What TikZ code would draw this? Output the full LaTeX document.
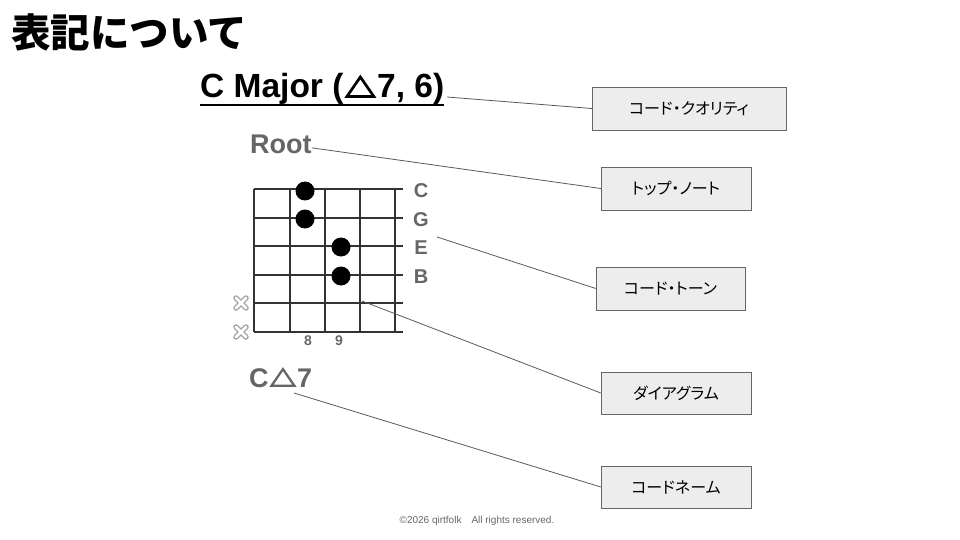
\documentclass[tikz,border=0pt]{standalone}
\usepackage{fontspec}
\usepackage{tikz}
\setmainfont{Liberation Sans}
\newfontfamily\jp{Noto Sans CJK JP}
\newfontfamily\jpbox[RawFeature=+palt]{Noto Sans CJK JP}
% bold outlined triangle for major seventh
\newcommand\majtri[1]{\hspace{0.06em}\tikz[baseline=0pt, x=#1pt, y=#1pt]
  \draw[line width=2.7pt*#1, line join=miter] (1.5,1.4) -- (28.5,1.4) -- (15,21) -- cycle;\hspace{0.06em}}

\begin{document}
\begin{tikzpicture}[x=1pt,y=-1pt]
  \useasboundingbox (0,0) rectangle (960,540);

  \node[anchor=west, inner sep=0, font=\jp\bfseries\fontsize{39.5}{42}\selectfont] (title) at (11,32) {表記について};

  % chord header
  \node[anchor=base west, inner sep=0, font=\bfseries\fontsize{33.5}{36}\selectfont] (quality) at (200,98) {C Major (\majtri{1}7, 6)};
  \draw[line width=2.5pt] ([yshift=-7pt]quality.base west) -- ([yshift=-7pt]quality.base east);

  \begin{scope}[every node/.style={anchor=base west, inner sep=0, text=black!60, font=\bfseries\fontsize{27}{30}\selectfont}]
    \node (root) at (250,154) {Root};
    \node (name) at (249,387) {C\majtri{0.85}7};
  \end{scope}

  % fretboard
  \begin{scope}[line width=1.4pt, black!80]
    \draw (254,189) -- (403,189);
    \draw (254,218) -- (403,218);
    \draw (254,246) -- (403,246);
    \draw (254,275) -- (403,275);
    \draw (254,303) -- (403,303);
    \draw (254,332) -- (403,332);
    \draw (254,189) -- (254,332);
    \draw (290,189) -- (290,332);
    \draw (325,189) -- (325,332);
    \draw (360,189) -- (360,332);
    \draw (395,189) -- (395,332);
  \end{scope}

  \begin{scope}[every node/.style={circle, fill=black, minimum size=19pt, inner sep=0}]
    \node (d1) at (305,191) {};
    \node (d2) at (305,219) {};
    \node (d3) at (341,247) {};
    \node (d4) at (341,276) {};
  \end{scope}

  \begin{scope}[every node/.style={text=black!60, font=\bfseries\fontsize{20}{22}\selectfont, inner sep=0}]
    \node (sC) at (421,191) {C};
    \node (sG) at (421,220) {G};
    \node (sE) at (421,248) {E};
    \node (sB) at (421,277) {B};
    \node[font=\bfseries\fontsize{14}{16}\selectfont] (f8) at (308,341) {8};
    \node[font=\bfseries\fontsize{14}{16}\selectfont] (f9) at (339,341) {9};
  \end{scope}

  % muted strings
  \draw[black!35, line width=5.5pt, line cap=round] (236,298) -- (246,308) (236,308) -- (246,298)
    (236,327) -- (246,337) (236,337) -- (246,327);
  \draw[white, line width=2.8pt, line cap=round] (236,298) -- (246,308) (236,308) -- (246,298)
    (236,327) -- (246,337) (236,337) -- (246,327);

  % labels
  \begin{scope}[every node/.style={draw=black!60, fill=black!7, minimum width=150pt, minimum height=43pt, font=\jpbox\fontsize{16}{18}\selectfont}]
    \node[minimum width=194pt] (b1) at (689,108.5) {コード・クオリティ};
    \node (b2) at (676,188.5) {トップ・ノート};
    \node[minimum width=149pt] (b3) at (670.5,288.5) {コード・トーン};
    \node[minimum height=42pt] (b4) at (676,393) {ダイアグラム};
    \node[minimum height=42pt] (b5) at (676,487) {コードネーム};
  \end{scope}

  \coordinate (q1) at (447,97);
  \coordinate (t1) at (437,237);
  \coordinate (t2) at (362,301);
  \coordinate (t3) at (294,393);

  \begin{scope}[every edge/.style={draw, black!65, line width=0.8pt}]
    \path (q1) edge (b1.west);
    \path ([yshift=-3pt]root.east) edge (b2.west);
    \path (t1) edge (b3.west);
    \path (t2) edge (b4.west);
    \path (t3) edge (b5.west);
  \end{scope}

  \node[text=black!60, font=\fontsize{10}{12}\selectfont] (copy) at (477,521) {©2026 qirtfolk\quad All rights reserved.};

\end{tikzpicture}
\end{document}
